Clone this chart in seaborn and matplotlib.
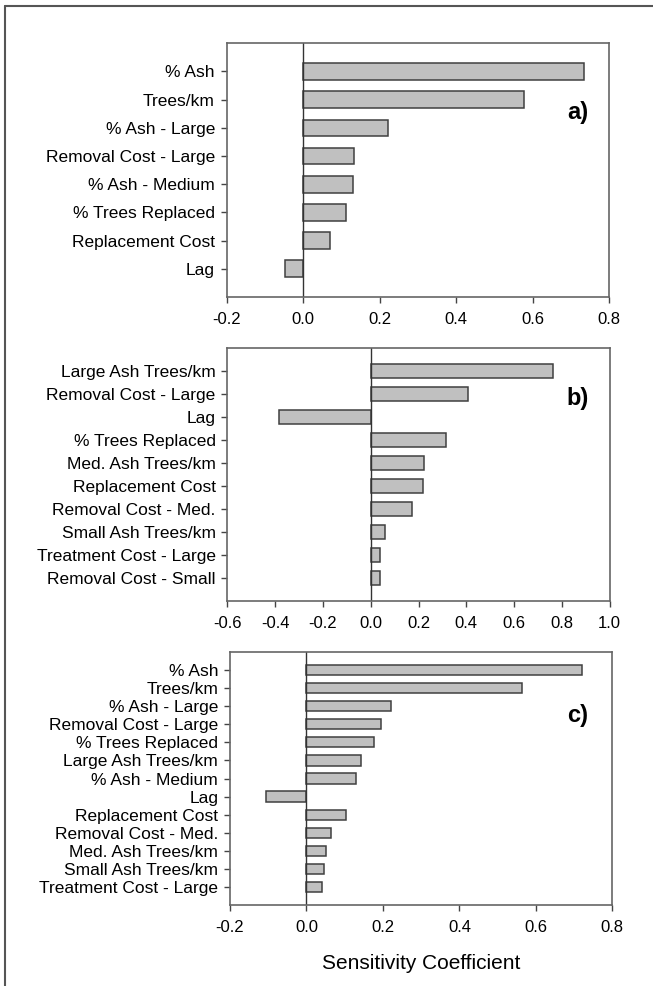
import pandas as pd
import matplotlib
matplotlib.use('Agg')
import matplotlib.pyplot as plt
import seaborn as sns
from matplotlib.lines import Line2D

# 패널 a) 데이터
labels_a = ['% Ash', 'Trees/km', '% Ash - Large', 'Removal Cost - Large',
            '% Ash - Medium', '% Trees Replaced', 'Replacement Cost', 'Lag']
values_a = [0.735, 0.578, 0.223, 0.132, 0.130, 0.113, 0.069, -0.047]

# 패널 b) 데이터
labels_b = ['Large Ash Trees/km', 'Removal Cost - Large', 'Lag', '% Trees Replaced',
            'Med. Ash Trees/km', 'Replacement Cost', 'Removal Cost - Med.',
            'Small Ash Trees/km', 'Treatment Cost - Large', 'Removal Cost - Small']
values_b = [0.761, 0.409, -0.382, 0.315, 0.225, 0.218, 0.171, 0.058, 0.038, 0.038]

# 패널 c) 데이터
labels_c = ['% Ash', 'Trees/km', '% Ash - Large', 'Removal Cost - Large',
            '% Trees Replaced', 'Large Ash Trees/km', '% Ash - Medium', 'Lag',
            'Replacement Cost', 'Removal Cost - Med.', 'Med. Ash Trees/km',
            'Small Ash Trees/km', 'Treatment Cost - Large']
values_c = [0.721, 0.565, 0.222, 0.195, 0.177, 0.143, 0.130, -0.107,
            0.103, 0.065, 0.052, 0.047, 0.041]

xticks_a = [-0.2, 0.0, 0.2, 0.4, 0.6, 0.8]
xticks_b = [-0.6, -0.4, -0.2, 0.0, 0.2, 0.4, 0.6, 0.8, 1.0]
xticks_c = [-0.2, 0.0, 0.2, 0.4, 0.6, 0.8]

sns.set_style('white')
plt.rcParams['font.family'] = ['Liberation Sans', 'DejaVu Sans']
plt.rcParams['text.color'] = 'black'
plt.rcParams['axes.labelcolor'] = 'black'

fig = plt.figure(figsize=(6.53, 9.86), dpi=100)

ax_a = fig.add_axes([0.3472, 0.6988, 0.5855, 0.2573])
ax_b = fig.add_axes([0.3481, 0.3905, 0.5856, 0.2569])
ax_c = fig.add_axes([0.3522, 0.0818, 0.5855, 0.2572])


def draw_panel(ax, labels, values, xticks, tag, tag_pos, width):
    df = pd.DataFrame({'label': labels, 'value': values})
    sns.barplot(data=df, x='value', y='label', orient='h', ax=ax,
                color='#c0c0c0', saturation=1, edgecolor='#404040',
                linewidth=1.1, width=width)
    n = len(labels)
    ax.set_ylim(n, -1)
    ax.set_xlim(xticks[0], xticks[-1])
    ax.set_xticks(xticks)
    ax.set_xticklabels([f'{t:.1f}' for t in xticks])
    ax.axvline(0, color='#333333', lw=1.0, zorder=1)
    ax.set_xlabel('')
    ax.set_ylabel('')
    for s in ax.spines.values():
        s.set_visible(True)
        s.set_color('#666666')
        s.set_linewidth(1.2)
    ax.tick_params(axis='x', direction='out', length=4, width=1, color='#444444',
                   labelsize=12, pad=6.5, bottom=True, labelcolor='black')
    ax.tick_params(axis='y', direction='out', length=4, width=1, color='#444444',
                   labelsize=12.5, pad=4.5, left=True, labelcolor='black')
    ax.text(tag_pos[0], tag_pos[1], tag, transform=ax.transAxes,
            ha='center', va='center', fontsize=17, fontweight='bold',
            family=['Liberation Sans Narrow', 'Liberation Sans', 'DejaVu Sans'])


draw_panel(ax_a, labels_a, values_a, xticks_a, 'a)', (0.919, 0.729), 0.59)
draw_panel(ax_b, labels_b, values_b, xticks_b, 'b)', (0.917, 0.801), 0.61)
draw_panel(ax_c, labels_c, values_c, xticks_c, 'c)', (0.910, 0.750), 0.57)

ax_c.set_xlabel('Sensitivity Coefficient', fontsize=15, labelpad=14)

# 바깥 테두리 (왼쪽, 위쪽)
fig.add_artist(Line2D([0.0077, 0.0077], [0.0, 0.9939], color='#555555', lw=1.5))
fig.add_artist(Line2D([0.0077, 1.0], [0.9939, 0.9939], color='#555555', lw=1.5))

fig.savefig('out.png', dpi=100)
